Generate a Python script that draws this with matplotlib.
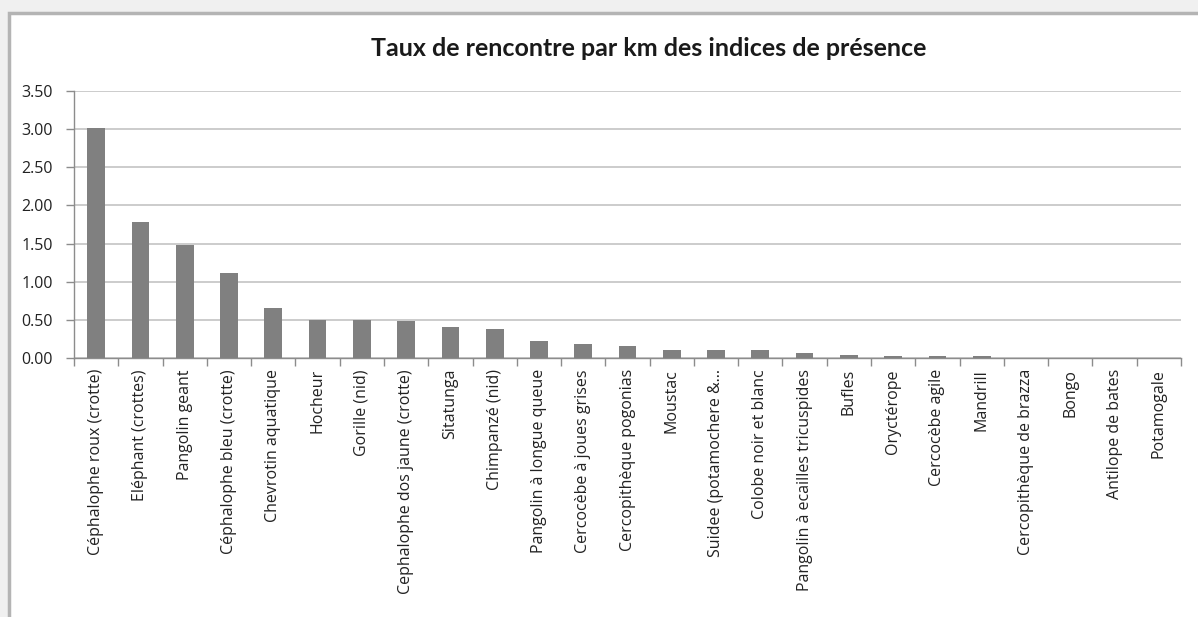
import numpy as np
import matplotlib
matplotlib.use("Agg")
import matplotlib.pyplot as plt
from matplotlib.patches import Rectangle

# encounter rate per km
categories = [
    "Céphalophe roux (crotte)", "Eléphant (crottes)", "Pangolin geant",
    "Céphalophe bleu (crotte)", "Chevrotin aquatique", "Hocheur",
    "Gorille (nid)", "Cephalophe dos jaune (crotte)", "Sitatunga",
    "Chimpanzé (nid)", "Pangolin à longue queue", "Cercocèbe à joues grises",
    "Cercopithèque pogonias", "Moustac", "Suidee (potamochere &...",
    "Colobe noir et blanc", "Pangolin à ecailles tricuspides", "Bufles",
    "Oryctérope", "Cercocèbe agile", "Mandrill", "Cercopithèque de brazza",
    "Bongo", "Antilope de bates", "Potamogale",
]
values = [
    3.01, 1.78, 1.48, 1.11, 0.65, 0.50, 0.50, 0.49, 0.41, 0.38,
    0.22, 0.19, 0.16, 0.11, 0.11, 0.10, 0.06, 0.04, 0.03, 0.03,
    0.02, 0.005, 0.005, 0.005, 0.0,
]
yticks = [0.0, 0.5, 1.0, 1.5, 2.0, 2.5, 3.0, 3.5]

plt.rcParams['font.family'] = ['Open Sans', 'DejaVu Sans']

W, H = 1198, 617
fig = plt.figure(figsize=(W / 100, H / 100), dpi=100, facecolor='#f0f0f0')
# chart area frame (Excel style), cut off at right and bottom
fig.patches.append(Rectangle((9 / W, -0.1), 1.2, 1.1 - 13 / H, transform=fig.transFigure,
                             facecolor='white', edgecolor='#b4b4b4', linewidth=2.5, zorder=-5))

ax = fig.add_axes([74 / W, 259 / H, (1181 - 74) / W, (526 - 259) / H])
ax.set_facecolor('none')

x = np.arange(len(categories))
ax.bar(x, values, width=0.4, color='#808080', zorder=3)

ax.set_xlim(-0.5, len(categories) - 0.5)
ax.set_ylim(0, 3.5)
ax.set_yticks(yticks)
ax.set_yticklabels([f"{v:.2f}" for v in yticks], fontsize=11.5, color='#222222')
ax.yaxis.grid(True, color='#c3c3c3', linewidth=1.2, zorder=0)
ax.set_axisbelow(True)

ax.set_xticks(x)
ax.set_xticklabels(categories, rotation=90, fontsize=11.5, color='#222222', va='top')
ax.tick_params(axis='x', which='major', length=0, pad=8)
ax.set_xticks(np.arange(-0.5, len(categories), 1.0), minor=True)
ax.tick_params(axis='x', which='minor', length=6, color='#8c8c8c', width=1)
ax.tick_params(axis='y', length=6, color='#8c8c8c', width=1, pad=9)

for side in ['top', 'right']:
    ax.spines[side].set_visible(False)
for side in ['left', 'bottom']:
    ax.spines[side].set_color('#8c8c8c')
    ax.spines[side].set_linewidth(1)

fig.text(649 / W, 1 - 48 / H, "Taux de rencontre par km des indices de présence",
         ha='center', va='center', fontsize=18, fontweight='bold', color='#1a1a1a',
         family=['Lato', 'DejaVu Sans'])

fig.savefig("out.png", dpi=100, facecolor=fig.get_facecolor())
